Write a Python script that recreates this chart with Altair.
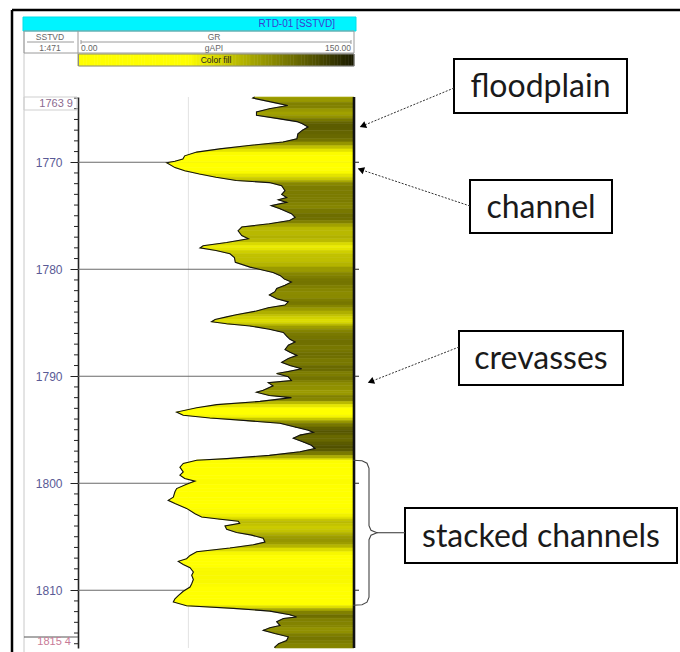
import math
import altair as alt
import pandas as pd

# ---- GR log, well RTD-01 (depth in m SSTVD, gamma ray in gAPI) ----
depth = [
    1763.9, 1764.0, 1764.4, 1764.7, 1765.0, 1765.3, 1765.6, 1765.9, 1766.2, 1766.4,
    1766.7, 1767.0, 1767.35, 1767.8, 1768.1, 1768.45, 1768.75, 1769.05, 1769.4, 1769.7,
    1769.9, 1770.05, 1770.5, 1770.8, 1771.1, 1771.4, 1771.7, 1771.9, 1772.2, 1772.65,
    1773.0, 1773.3, 1773.5, 1773.75, 1774.05, 1774.35, 1774.8, 1775.15, 1775.45, 1775.75,
    1776.05, 1776.4, 1776.85, 1777.15, 1777.5, 1777.8, 1778.0, 1778.25, 1778.55, 1778.9,
    1779.35, 1779.8, 1780.3, 1780.6, 1780.9, 1781.2, 1781.5, 1781.8, 1782.1, 1782.4,
    1782.75, 1783.05, 1783.35, 1783.6, 1783.9, 1784.25, 1784.45, 1784.7, 1784.9, 1785.1,
    1785.3, 1785.6, 1785.9, 1786.25, 1786.55, 1786.8, 1787.1, 1787.5, 1787.75, 1788.05,
    1788.35, 1788.7, 1789.0, 1789.3, 1789.55, 1789.75, 1790.05, 1790.4, 1790.6, 1790.9,
    1791.3, 1791.5, 1791.8, 1792.0, 1792.35, 1792.65, 1792.95, 1793.35, 1793.65, 1793.9,
    1794.15, 1794.4, 1794.75, 1795.05, 1795.25, 1795.5, 1795.8, 1796.15, 1796.45, 1796.75,
    1797.05, 1797.4, 1797.7, 1797.85, 1798.15, 1798.5, 1798.95, 1799.25, 1799.55, 1799.8,
    1800.1, 1800.5, 1800.8, 1801.3, 1801.6, 1801.9, 1802.35, 1802.85, 1803.15, 1803.35,
    1803.55, 1803.75, 1804.0, 1804.3, 1804.6, 1804.85, 1805.15, 1805.5, 1805.75, 1806.05,
    1806.4, 1806.75, 1807.05, 1807.3, 1807.6, 1807.9, 1808.3, 1808.6, 1809.0, 1809.4,
    1809.7, 1810.1, 1810.5, 1810.8, 1811.1, 1811.45, 1811.7, 1811.95, 1812.3, 1812.5,
    1812.65, 1812.95, 1813.3, 1813.5, 1813.75, 1814.05, 1814.35, 1814.7, 1815.0, 1815.3,
    1815.4,
]
gr = [
    96, 95, 106, 114, 104, 97, 97, 108, 119, 122,
    125, 122, 119.5, 119, 111.5, 91.7, 77, 64.5, 58, 57,
    52.7, 48.2, 52.7, 58, 66, 75, 86, 104, 110.7, 112.5,
    110.7, 113.4, 108.9, 113.4, 105, 109.8, 116, 118, 115, 104,
    89, 87, 89, 92.6, 80.8, 68, 66.3, 75, 82.6, 85,
    85.5, 93.5, 106, 110, 112, 116, 112.5, 108, 107, 104,
    108, 114.3, 112.5, 103.4, 97, 86, 80.8, 74.5, 72.6, 80.8,
    93.5, 104, 111.6, 113.4, 115.2, 118, 114.3, 112.5, 115.2, 119,
    114.3, 110.7, 115.2, 121.6, 114.3, 108, 114.3, 116, 103.4, 106,
    100.7, 97, 104, 116, 99, 75.4, 64.5, 53.6, 57.2, 71.7,
    91.7, 109.8, 118, 125.2, 127.9, 120.7, 117, 122.5, 126.8, 128.8,
    120.7, 104, 80.8, 64.5, 57.2, 55.4, 57.2, 55.4, 58, 63.6,
    59, 53.6, 52.7, 51.8, 49, 52.7, 59, 63.6, 67.2, 76.3,
    87.1, 87.9, 79.9, 80.8, 86.2, 94.4, 100.7, 101.6, 95.3, 82.6,
    64.5, 60.9, 59, 54.5, 57.2, 60.9, 62.7, 61.8, 62.7, 61.8,
    60.9, 57.2, 54.5, 52.7, 51.8, 59, 84.4, 104.3, 115.2, 118.8,
    111.6, 108, 109.8, 104.3, 100.7, 107, 114.3, 113.4, 109, 107,
    107,
]

TOP, BASE = 1763.9, 1815.4          # displayed depth interval
GR_MIN, GR_MAX = 0.0, 150.0         # GR track scale
major_depths = [1770, 1780, 1790, 1800, 1810]
minor_depths = [d for d in range(1764, 1816) if d % 10]
grid_gr = [60]
legend_steps = [i * 1.5 for i in range(100)]

labels = ["floodplain", "channel", "crevasses", "stacked channels"]
arrow_depths = [1766.7, 1770.6, 1790.6]      # floodplain, channel, crevasses
stack_top, stack_base = 1797.85, 1811.4      # stacked channel interval

W, H = 276, 551


def ypx(d):
    return (d - TOP) / (BASE - TOP) * H


def x_to_gr(px):
    return GR_MIN + px / W * (GR_MAX - GR_MIN)


def y_to_depth(py):
    return TOP + py / H * (BASE - TOP)


X_SCALE = alt.Scale(domain=[GR_MIN, GR_MAX], nice=False, zero=False)
Y_SCALE = alt.Scale(domain=[TOP, BASE], reverse=True, nice=False, zero=False)
FILL_SCALE = alt.Scale(domain=[0, 60, 150], range=["#ffff00", "#ffff00", "#1a1a00"],
                       interpolate="rgb")
Y_AXIS = alt.Axis(values=major_depths, title=None, grid=False, tickSize=8,
                  tickColor="#222", domainColor="#222", domainWidth=1.6,
                  labelFont="Liberation Sans", labelFontSize=12,
                  labelColor="#5a5a96", labelPadding=8, format="d")

one = pd.DataFrame({"k": [0]})
log = pd.DataFrame({"depth": depth, "gr": gr})

# shaded fill: one polygon per sample interval, coloured by its mean GR
seg_rows = []
for i in range(len(depth) - 1):
    c = (gr[i] + gr[i + 1]) / 2
    seg_rows.append({"seg": i, "depth": depth[i], "gr": gr[i], "c": c})
    seg_rows.append({"seg": i, "depth": depth[i + 1], "gr": gr[i + 1], "c": c})
segs = pd.DataFrame(seg_rows)

legend_df = pd.DataFrame({"lo": legend_steps,
                          "hi": [v + 1.6 for v in legend_steps],
                          "c": [v + 0.75 for v in legend_steps]})


def xq(field="gr"):
    return alt.X(f"{field}:Q", scale=X_SCALE, axis=None)


def yq(field="depth"):
    return alt.Y(f"{field}:Q", scale=Y_SCALE, axis=Y_AXIS)


def rule(x1, x2, y1, y2, color="#000", width=1.0, dash=None):
    kw = dict(color=color, strokeWidth=width)
    if dash:
        kw["strokeDash"] = dash
    return alt.Chart(one).mark_rule(**kw).encode(
        x=alt.value(x1), x2=alt.value(x2), y=alt.value(y1), y2=alt.value(y2))


def box(x1, y1, x2, y2, fill="#ffffff", stroke="#000", width=1.0, opacity=1.0):
    kw = dict(fill=fill, stroke=stroke, strokeWidth=width, fillOpacity=opacity)
    return alt.Chart(one).mark_rect(**kw).encode(
        x=alt.value(x1), x2=alt.value(x2), y=alt.value(y1), y2=alt.value(y2))


def label(s, px, py, size=9, color="#555", align="center", font="Liberation Sans"):
    return alt.Chart(one).mark_text(text=s, fontSize=size, color=color, align=align,
                                    baseline="middle", font=font).encode(
        x=alt.value(px), y=alt.value(py))


layers = []

# vertical grid line and depth lines behind the fill
layers.append(alt.Chart(pd.DataFrame({"g": grid_gr})).mark_rule(
    color="#e2e2e2", strokeWidth=1).encode(x=alt.X("g:Q", scale=X_SCALE, axis=None)))
layers.append(alt.Chart(pd.DataFrame({"depth": major_depths})).mark_rule(
    color="#6a6a6a", strokeWidth=1.2).encode(
    y=yq(), x=alt.value(0), x2=alt.value(W)))

# colour fill between the curve and the right edge of the track
layers.append(alt.Chart(segs).mark_area(orient="horizontal", strokeWidth=0.6).encode(
    x=alt.X("gr:Q", scale=X_SCALE, axis=None, stack=None),
    x2=alt.datum(GR_MAX),
    y=yq(),
    color=alt.Color("c:Q", scale=FILL_SCALE, legend=None),
    stroke=alt.Stroke("c:Q", scale=FILL_SCALE, legend=None),
    detail="seg:N",
))

# GR curve
layers.append(alt.Chart(log).mark_line(color="#111", strokeWidth=1.1).encode(
    x=xq(), y=yq(), order="depth:Q"))

# right edge of the track and its ticks
layers.append(rule(W, W, 0, H, "#111", 2.6))
layers.append(alt.Chart(pd.DataFrame({"depth": major_depths})).mark_rule(
    color="#222", strokeWidth=1).encode(y=yq(), x=alt.value(W), x2=alt.value(W + 5)))

# minor depth ticks
layers.append(alt.Chart(pd.DataFrame({"depth": minor_depths})).mark_rule(
    color="#222", strokeWidth=1).encode(y=yq(), x=alt.value(-4), x2=alt.value(0)))

# depth column frame and the interval limits
layers.append(rule(-54, -54, -66, 560, "#c8c8c8", 1))
layers.append(box(-54, 0, -1, 13, fill="#ffffff", stroke="#cfcfcf", width=1, opacity=0))
layers.append(label(f"{TOP:.1f}".replace(".", " "), -5, 6.5, 11, "#8a6a8e", "right"))
layers.append(rule(-54, 0, 540, 540, "#555", 1))
layers.append(label(f"{BASE:.1f}".replace(".", " "), -7, 545, 11, "#c87a96", "right"))

# header
layers.append(box(-55, -80, 278, -66, fill="#00f4ff", stroke="#00dfe8", width=1))
layers.append(label("RTD-01 [SSTVD]", 257, -73, 10, "#3b3bd0", "right"))
layers.append(box(-54, -66, 276, -44, fill="#ffffff", stroke="#9a9a9a", width=1, opacity=0))
layers.append(rule(0, 0, -66, -31, "#9a9a9a", 1))
layers.append(label("SSTVD", -28, -60, 8.5, "#666"))
layers.append(rule(-51, -4, -55, -55, "#9a9a9a", 1))
layers.append(label("1:471", -28, -49, 8.5, "#666"))
layers.append(label("GR", 136, -60, 8.5, "#666"))
layers.append(rule(3, 273, -55, -55, "#9a9a9a", 1))
layers.append(rule(3, 3, -57, -53, "#9a9a9a", 1))
layers.append(rule(273, 273, -57, -53, "#9a9a9a", 1))
layers.append(label(f"{GR_MIN:.2f}", 3, -49, 8.5, "#666", "left"))
layers.append(label("gAPI", 136, -49, 8.5, "#666"))
layers.append(label(f"{GR_MAX:.2f}", 273, -49, 8.5, "#666", "right"))
layers.append(alt.Chart(legend_df).mark_rect(strokeWidth=0.4).encode(
    x=alt.X("lo:Q", scale=X_SCALE, axis=None), x2="hi:Q",
    y=alt.value(-43), y2=alt.value(-31),
    color=alt.Color("c:Q", scale=FILL_SCALE, legend=None),
    stroke=alt.Stroke("c:Q", scale=FILL_SCALE, legend=None)))
layers.append(box(0.5, -43, 276, -31, fill="#ffffff", stroke="#8a8a8a", width=1, opacity=0))
layers.append(label("Color fill", 138, -37, 8.5, "#222"))

# outer frame
layers.append(rule(-66, 602, -87, -87, "#000", 2.5))
layers.append(rule(-66, -66, -87, 560, "#000", 2.5))

# annotation boxes
ann_boxes = [(376, -38, 549, 16), (392, 83, 534, 136), (381, 234, 545, 288), (327, 411, 599, 466)]
for s, (x1, y1, x2, y2) in zip(labels, ann_boxes):
    layers.append(box(x1, y1, x2, y2, fill="#ffffff", stroke="#000", width=2))
    layers.append(label(s, (x1 + x2) / 2, (y1 + y2) / 2 + 1, 32, "#1a1a1a", font="Lato"))

# arrows from the boxes to the track
arrow_starts = [(376, -9), (392, 109), (381, 250)]
arrow_end_x = [282, 280, 290]
for (sx, sy), ex, d in zip(arrow_starts, arrow_end_x, arrow_depths):
    ey = ypx(d)
    layers.append(rule(sx, ex, sy, ey, "#333", 1, [2, 1.5]))
    dx, dy = ex - sx, ey - sy
    n = math.hypot(dx, dy)
    ang = math.degrees(math.atan2(dx, -dy)) % 360
    layers.append(alt.Chart(one).mark_point(shape="triangle-up", filled=True, color="#000",
                                            size=55, opacity=1, angle=ang).encode(
        x=alt.value(ex - 3 * dx / n), y=alt.value(ey - 3 * dy / n)))

# curly brace spanning the stacked channels
yt, yb = ypx(stack_top), ypx(stack_base)
ym = (yt + yb) / 2
brace_px = [(275, yt), (284, yt + 0.5), (289, yt + 3), (291, yt + 8), (291, ym - 7),
            (293, ym - 2.5), (299, ym), (293, ym + 2.5), (291, ym + 7), (291, yb - 8),
            (289, yb - 3), (284, yb - 0.5), (275, yb)]
brace = pd.DataFrame({"gr": [x_to_gr(p[0]) for p in brace_px],
                      "depth": [y_to_depth(p[1]) for p in brace_px],
                      "o": list(range(len(brace_px)))})
layers.append(alt.Chart(brace).mark_line(color="#444", strokeWidth=1.1).encode(
    x=xq(), y=yq(), order="o:Q"))
layers.append(rule(299, 327, ym, ym, "#444", 1.1))

chart = alt.layer(*layers).properties(
    width=W, height=H,
    autosize=alt.AutoSizeParams(type="none"),
    padding={"left": 78, "top": 97, "right": 680 - 78 - W, "bottom": 652 - 97 - H},
    background="#ffffff",
).configure_view(stroke=None)

chart.save("out.html", embed_options={"renderer": "svg", "actions": False})
